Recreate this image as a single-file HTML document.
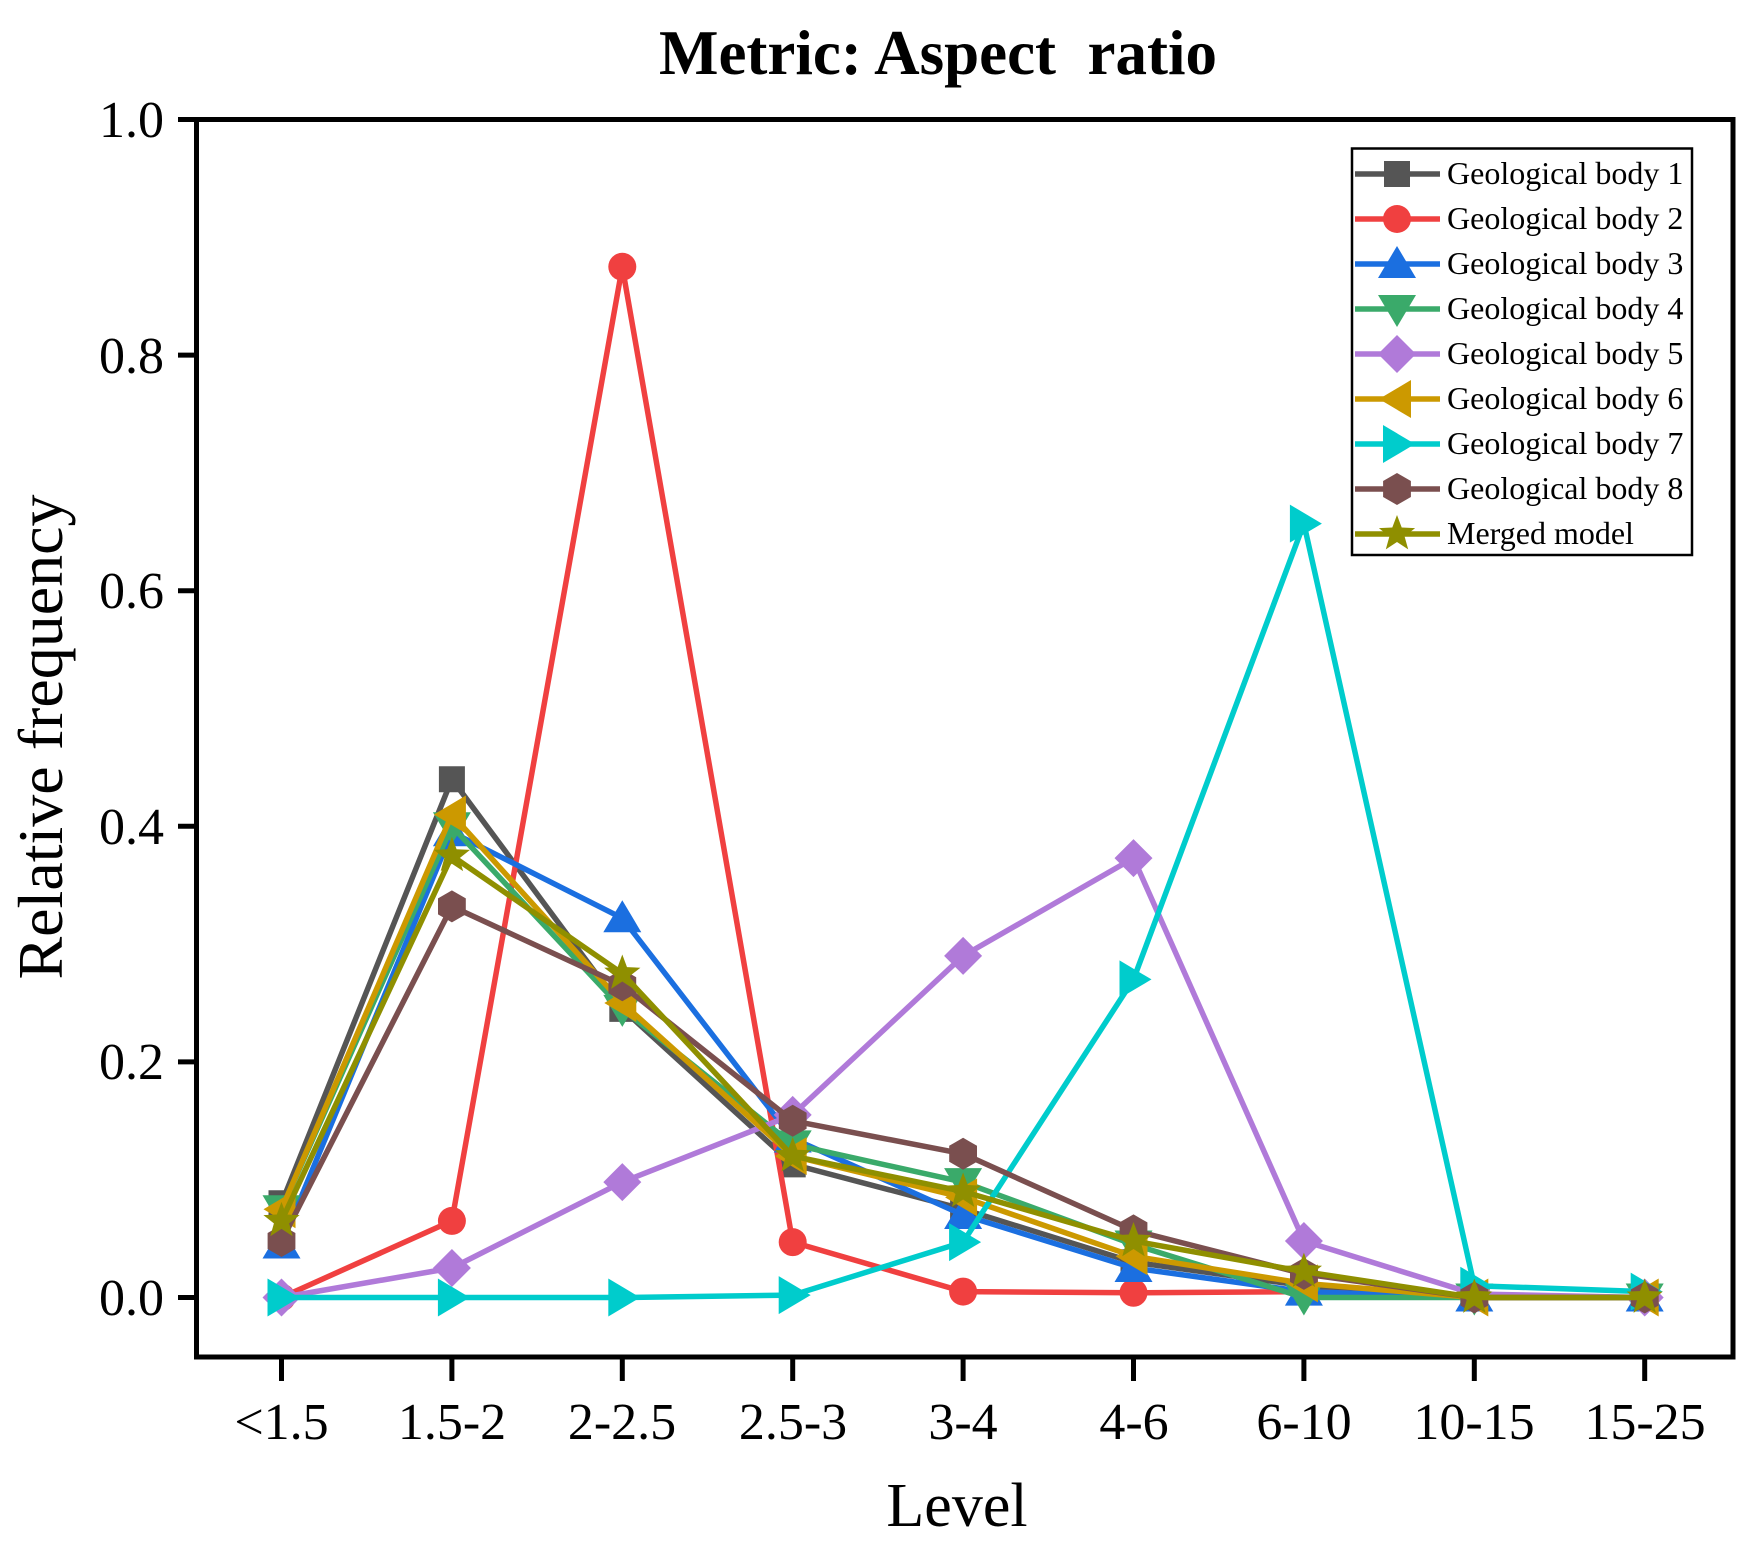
<!DOCTYPE html>
<html><head><meta charset="utf-8"><style>
html,body{margin:0;padding:0;background:#fff}
svg{display:block}
text{font-family:"Liberation Serif",serif;fill:#000}
</style></head><body>
<svg id="s" width="1751" height="1546" viewBox="0 0 1751 1546" xmlns="http://www.w3.org/2000/svg">
<rect width="1751" height="1546" fill="#fff"/>
<text x="938" y="74" font-size="63" font-weight="bold" text-anchor="middle">Metric: Aspect&#160; ratio</text>
<g id="plot"></g>
<rect x="196.5" y="119.5" width="1536.5" height="1237.5" fill="none" stroke="#000" stroke-width="5"/>
<g font-size="52" text-anchor="end">
<text x="164" y="1315">0.0</text>
<text x="164" y="1079">0.2</text>
<text x="164" y="844">0.4</text>
<text x="164" y="608">0.6</text>
<text x="164" y="373">0.8</text>
<text x="164" y="137">1.0</text>
</g>
<g font-size="52" text-anchor="middle">
<text x="281.5" y="1439">&lt;1.5</text>
<text x="452" y="1439">1.5-2</text>
<text x="622" y="1439">2-2.5</text>
<text x="793" y="1439">2.5-3</text>
<text x="963" y="1439">3-4</text>
<text x="1134" y="1439">4-6</text>
<text x="1304" y="1439">6-10</text>
<text x="1474" y="1439">10-15</text>
<text x="1645" y="1439">15-25</text>
</g>
<text x="957" y="1526" font-size="62" text-anchor="middle">Level</text>
<text transform="translate(62,737) rotate(-90)" font-size="64" text-anchor="middle">Relative frequency</text>
<rect x="1352" y="148.5" width="340" height="406.5" fill="#fff" stroke="#000" stroke-width="2.5"/>
<g id="leg"></g>
<g font-size="32">
<text x="1447" y="184">Geological body 1</text>
<text x="1447" y="229">Geological body 2</text>
<text x="1447" y="274">Geological body 3</text>
<text x="1447" y="319">Geological body 4</text>
<text x="1447" y="364">Geological body 5</text>
<text x="1447" y="409">Geological body 6</text>
<text x="1447" y="454">Geological body 7</text>
<text x="1447" y="499">Geological body 8</text>
<text x="1447" y="544">Merged model</text>
</g>
</svg>
<script>
var NS="http://www.w3.org/2000/svg";
function X(i){return 281.5+i*170.4}
function Y(v){return 1297.5-1178*v}
var S=[
["#555555","sq",[0.08,0.44,0.245,0.113,0.075,0.03,0.01,0,0]],
["#f04040","ci",[0,0.065,0.875,0.047,0.005,0.004,0.005,0,0]],
["#1b6fe0","tu",[0.045,0.395,0.322,0.135,0.07,0.025,0.005,0,0]],
["#3aaa6a","td",[0.075,0.4,0.245,0.13,0.098,0.045,0,0,0]],
["#b07ad9","di",[0,0.025,0.098,0.155,0.29,0.373,0.048,0.003,0]],
["#cc9900","tl",[0.075,0.41,0.25,0.12,0.085,0.035,0.012,0,0]],
["#00cccc","tr",[0,0,0,0.002,0.047,0.27,0.657,0.01,0.005]],
["#7a4f4f","hx",[0.048,0.332,0.265,0.15,0.122,0.057,0.02,0,0]],
["#8f8f00","st",[0.065,0.375,0.275,0.12,0.09,0.048,0.022,0,0]]];
function pts(a){return a.map(function(p){return p[0].toFixed(1)+","+p[1].toFixed(1)}).join(" ")}
function marker(g,t,x,y,c){
 var r=14,e;
 if(t=="ci"){e=document.createElementNS(NS,"circle");e.setAttribute("cx",x);e.setAttribute("cy",y);e.setAttribute("r",r);}
 else{
  var p;
  if(t=="sq")p=[[x-13,y-13],[x+13,y-13],[x+13,y+13],[x-13,y+13]];
  if(t=="tu")p=[[x,y-18],[x+19,y+14],[x-19,y+14]];
  if(t=="td")p=[[x,y+18],[x+19,y-14],[x-19,y-14]];
  if(t=="tl")p=[[x-18,y],[x+14,y-19],[x+14,y+19]];
  if(t=="tr")p=[[x+18,y],[x-14,y-19],[x-14,y+19]];
  if(t=="di")p=[[x,y-19],[x+19,y],[x,y+19],[x-19,y]];
  if(t=="hx"){p=[];for(var k=0;k<6;k++){var a=Math.PI/6+k*Math.PI/3;p.push([x+16*Math.cos(a),y+16*Math.sin(a)]);}}
  if(t=="st"){p=[];for(var k=0;k<10;k++){var a=-Math.PI/2+k*Math.PI/5,rr=k%2?8:19;p.push([x+rr*Math.cos(a),y+rr*Math.sin(a)]);}}
  e=document.createElementNS(NS,"polygon");e.setAttribute("points",pts(p));
 }
 e.setAttribute("fill",c);g.appendChild(e);
}
var plot=document.getElementById("plot"),leg=document.getElementById("leg");
S.forEach(function(s,j){
 var g=document.createElementNS(NS,"g");
 var pl=document.createElementNS(NS,"polyline");
 pl.setAttribute("points",pts(s[2].map(function(v,i){return [X(i),Y(v)]})));
 pl.setAttribute("fill","none");pl.setAttribute("stroke",s[0]);pl.setAttribute("stroke-width","5.5");pl.setAttribute("stroke-linejoin","round");
 g.appendChild(pl);
 s[2].forEach(function(v,i){marker(g,s[1],X(i),Y(v),s[0])});
 plot.appendChild(g);
 var y=174+45*j;
 var l=document.createElementNS(NS,"line");
 l.setAttribute("x1",1355);l.setAttribute("x2",1440);l.setAttribute("y1",y);l.setAttribute("y2",y);
 l.setAttribute("stroke",s[0]);l.setAttribute("stroke-width","5.5");leg.appendChild(l);
 marker(leg,s[1],1397,y,s[0]);
});
var ax=document.getElementById("s");
function ln(x1,y1,x2,y2){var l=document.createElementNS(NS,"line");l.setAttribute("x1",x1);l.setAttribute("y1",y1);l.setAttribute("x2",x2);l.setAttribute("y2",y2);l.setAttribute("stroke","#000");l.setAttribute("stroke-width","5");ax.appendChild(l);}
for(var i=0;i<9;i++)ln(X(i),1357,X(i),1381);
for(var k=0;k<6;k++)ln(178,Y(k*0.2),196.5,Y(k*0.2));
</script>
</body></html>
